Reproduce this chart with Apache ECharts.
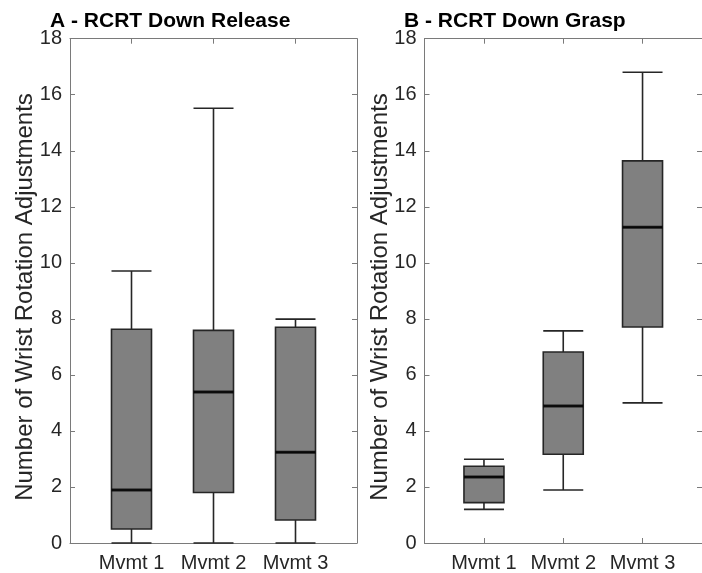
<!DOCTYPE html>
<html>
<head>
<meta charset="utf-8">
<script src="https://cdn.jsdelivr.net/npm/echarts@6/dist/echarts.min.js"></script>
<style>html,body{margin:0;padding:0;background:#fff;}#c{width:702px;height:573px;}</style>
</head>
<body>
<div id="c"></div>
<script>
// ---- data ----
var categories = ['Mvmt 1', 'Mvmt 2', 'Mvmt 3'];
var positions = [1, 2, 3];
// [min, Q1, median, Q3, max]
var releaseStats = [
  [0, 0.50, 1.89, 7.63, 9.71],
  [0, 1.80, 5.39, 7.59, 15.52],
  [0, 0.82, 3.24, 7.70, 7.99]
];
var graspStats = [
  [1.20, 1.44, 2.36, 2.74, 2.99],
  [1.89, 3.17, 4.89, 6.82, 7.57],
  [5.00, 7.71, 11.27, 13.64, 16.80]
];
var titles = ['A - RCRT Down Release', 'B - RCRT Down Grasp'];
var yLabel = 'Number of Wrist Rotation Adjustments';

// ---- chart ----
var FONT = '"Liberation Sans", Arial, Helvetica, sans-serif';
var axisColor = '#7a7a7a';
var textColor = '#262626';
var chart = echarts.init(document.getElementById('c'), null, {renderer: 'canvas'});

var grids = [
  {left: 70, top: 38.7, width: 287, height: 504.3},
  {left: 424.5, top: 38.7, width: 287, height: 504.3}
];

var xAxes = [], yAxes = [], series = [];
[releaseStats, graspStats].forEach(function (stats, g) {
  xAxes.push({
    type: 'value', gridIndex: g, min: 0.25, max: 3.75, position: 'bottom',
    axisLine: {show: true, onZero: false, lineStyle: {color: axisColor, width: 1}},
    axisTick: {show: true, inside: true, length: 5, customValues: positions, lineStyle: {color: axisColor}},
    axisLabel: {show: true, customValues: positions, margin: 10, color: textColor, fontFamily: FONT, fontSize: 20,
      formatter: function (v) { return categories[Math.round(v) - 1] || ''; }},
    splitLine: {show: false}
  });
  xAxes.push({
    type: 'value', gridIndex: g, min: 0.25, max: 3.75, position: 'top',
    axisLine: {show: true, onZero: false, lineStyle: {color: axisColor, width: 1}},
    axisTick: {show: true, inside: true, length: 5, customValues: positions, lineStyle: {color: axisColor}},
    axisLabel: {show: false},
    splitLine: {show: false}
  });
  yAxes.push({
    type: 'value', gridIndex: g, min: 0, max: 18, interval: 2, position: 'left',
    axisLine: {show: true, onZero: false, lineStyle: {color: axisColor, width: 1}},
    axisTick: {show: true, inside: true, length: 5, lineStyle: {color: axisColor}},
    axisLabel: {show: true, margin: 8, color: textColor, fontFamily: FONT, fontSize: 20},
    splitLine: {show: false}
  });
  yAxes.push({
    type: 'value', gridIndex: g, min: 0, max: 18, interval: 2, position: 'right',
    axisLine: {show: true, onZero: false, lineStyle: {color: axisColor, width: 1}},
    axisTick: {show: true, inside: true, length: 5, lineStyle: {color: axisColor}},
    axisLabel: {show: false},
    splitLine: {show: false}
  });

  var boxData = stats.map(function (s, i) { return [positions[i]].concat(s); });
  var medData = stats.map(function (s, i) { return [positions[i], s[2]]; });

  series.push({
    type: 'boxplot', xAxisIndex: g * 2, yAxisIndex: g * 2,
    layout: 'horizontal',
    encode: {x: 0, y: [1, 2, 3, 4, 5]},
    boxWidth: [40, 40],
    data: boxData,
    itemStyle: {color: '#808080', borderColor: '#262626', borderWidth: 1.6},
    emphasis: {disabled: true},
    silent: true
  });
  series.push({
    type: 'scatter', xAxisIndex: g * 2, yAxisIndex: g * 2,
    symbol: 'rect', symbolSize: [40, 3],
    data: medData,
    itemStyle: {color: '#000'},
    z: 5, silent: true
  });
});

var yLabelX = [25, 380];
chart.setOption({
  animation: false,
  backgroundColor: '#fff',
  title: [
    {text: titles[0], left: 45, top: 6, textStyle: {fontFamily: FONT, fontWeight: 'bold', fontSize: 21, color: '#000'}},
    {text: titles[1], left: 399, top: 6, textStyle: {fontFamily: FONT, fontWeight: 'bold', fontSize: 21, color: '#000'}}
  ],
  graphic: yLabelX.map(function (x) {
    return {
      type: 'text', x: x, y: 297, rotation: Math.PI / 2, silent: true,
      style: {text: yLabel, fill: textColor, font: '24px ' + FONT, align: 'center', verticalAlign: 'middle'}
    };
  }),
  grid: grids,
  xAxis: xAxes,
  yAxis: yAxes,
  series: series
});
</script>
</body>
</html>
